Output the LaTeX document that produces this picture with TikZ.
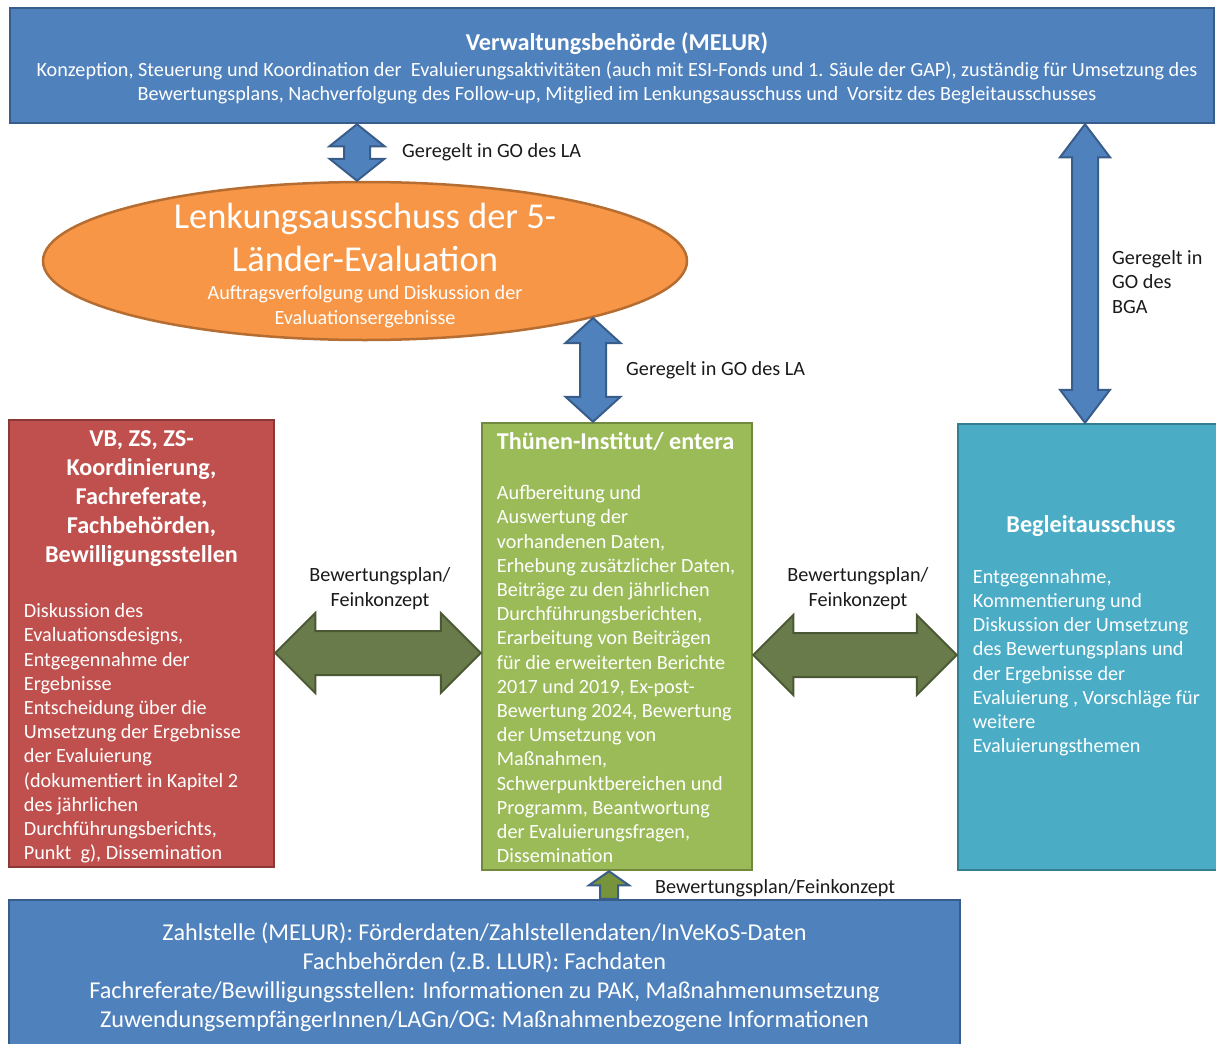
\documentclass[tikz,border=0pt]{standalone}
\usepackage{fontspec}
\setmainfont{Carlito}
\usetikzlibrary{calc,positioning,shapes.geometric}

\definecolor{vbblue}{RGB}{79,129,189}
\definecolor{vbblueline}{RGB}{56,93,138}
\definecolor{lkorange}{RGB}{247,150,70}
\definecolor{lkorangeline}{RGB}{182,109,49}
\definecolor{vbred}{RGB}{192,80,77}
\definecolor{vbredline}{RGB}{140,56,54}
\definecolor{tigreen}{RGB}{155,187,89}
\definecolor{tigreenline}{RGB}{113,137,63}
\definecolor{bateal}{RGB}{75,172,198}
\definecolor{batealline}{RGB}{53,125,145}
\definecolor{arrowolive}{RGB}{106,123,75}
\definecolor{arrowoliveline}{RGB}{74,89,52}
\definecolor{upolive}{RGB}{119,147,60}
\definecolor{labelgray}{RGB}{26,26,26}

% block arrows: style, top/left end, bottom/right end, half shaft, half head, head length
\newcommand{\vdblarrow}[6]{%
  \draw[#1] (#2) -- ($(#2)+(#5,#6)$) -- ($(#2)+(#4,#6)$) -- ($(#3)+(#4,-#6)$)
    -- ($(#3)+(#5,-#6)$) -- (#3) -- ($(#3)+(-#5,-#6)$) -- ($(#3)+(-#4,-#6)$)
    -- ($(#2)+(-#4,#6)$) -- ($(#2)+(-#5,#6)$) -- cycle;}
\newcommand{\hdblarrow}[6]{%
  \draw[#1] (#2) -- ($(#2)+(#6,-#5)$) -- ($(#2)+(#6,-#4)$) -- ($(#3)+(-#6,-#4)$)
    -- ($(#3)+(-#6,-#5)$) -- (#3) -- ($(#3)+(-#6,#5)$) -- ($(#3)+(-#6,#4)$)
    -- ($(#2)+(#6,#4)$) -- ($(#2)+(#6,#5)$) -- cycle;}

\tikzset{
  boxbase/.style={rectangle, inner sep=0pt, line width=2.5pt},
  bluebox/.style={boxbase, fill=vbblue, draw=vbblueline},
  redbox/.style={boxbase, fill=vbred, draw=vbredline},
  greenbox/.style={boxbase, fill=tigreen, draw=tigreenline},
  tealbox/.style={boxbase, fill=bateal, draw=batealline},
  lenkshape/.style={ellipse, inner sep=0pt, line width=2.5pt, fill=lkorange, draw=lkorangeline},
  bodytext/.style={text=white, inner sep=0pt, font=\fontsize{20.2}{24.2}\selectfont},
  bigtext/.style={text=white, inner sep=0pt, font=\fontsize{24.2}{29}\selectfont},
  headtext/.style={text=white, inner sep=0pt, font=\bfseries\fontsize{24.2}{29}\selectfont},
  hugetext/.style={text=white, inner sep=0pt, font=\fontsize{36.5}{43}\selectfont},
  lbl/.style={text=labelgray, inner sep=0pt, font=\fontsize{20.2}{24.2}\selectfont},
  bluearrow/.style={fill=vbblue, draw=vbblueline, line width=2pt},
  greenarrow/.style={fill=arrowolive, draw=arrowoliveline, line width=2pt},
  uparrow/.style={fill=upolive, draw=vbblueline, line width=2pt}
}

\begin{document}
\begin{tikzpicture}[x=1pt, y=-1pt]

\clip (0,0) rectangle (1216,1044);

% Verwaltungsbehoerde
\node[bluebox, minimum width=1204pt, minimum height=115pt] (melur) at (612,65.5) {};
\node[headtext, anchor=base] (melurtitle) at ($(melur.north)+(5,44)$) {Verwaltungsbehörde (MELUR)};
\node[bodytext, align=center, anchor=base] (melurtext) at ($(melur.north)+(5,94)$)
  {Konzeption, Steuerung und Koordination der~ Evaluierungsaktivitäten (auch mit ESI-Fonds und 1. Säule der GAP), zuständig für Umsetzung des\\
   Bewertungsplans, Nachverfolgung des Follow-up, Mitglied im Lenkungsausschuss und~ Vorsitz des Begleitausschusses};

% Lenkungsausschuss
\node[lenkshape, minimum width=644pt, minimum height=158pt] (lenk) at (365,261) {};
\node[hugetext, align=center, anchor=base] (lenktitle) at (365,271)
  {Lenkungsausschuss der 5-\\Länder-Evaluation};
\node[bodytext, align=center, anchor=base] (lenktext) at (365,324)
  {Auftragsverfolgung und Diskussion der\\Evaluationsergebnisse};

% Akteure
\node[redbox, minimum width=265pt, minimum height=447pt] (vb) at (141.5,643.5) {};
\node[headtext, align=center, anchor=base] (vbtitle) at ($(vb.north)+(0,144)$)
  {VB, ZS, ZS-\\Koordinierung,\\Fachreferate,\\Fachbehörden,\\Bewilligungsstellen};
\node[bodytext, align=left, anchor=base west] (vbtext) at ($(vb.north west)+(16,441)$)
  {Diskussion des\\Evaluationsdesigns,\\Entgegennahme der\\Ergebnisse\\Entscheidung über die\\Umsetzung der Ergebnisse\\der Evaluierung\\(dokumentiert in Kapitel 2\\des jährlichen\\Durchführungsberichts,\\Punkt~ g), Dissemination};

\node[greenbox, minimum width=270pt, minimum height=447pt] (ti) at (617,646.5) {};
\node[headtext, anchor=base west] (tititle) at ($(ti.north west)+(16,28)$) {Thünen-Institut/ entera};
\node[bodytext, align=left, anchor=base west] (titext) at ($(ti.north west)+(16,441)$)
  {Aufbereitung und\\Auswertung der\\vorhandenen Daten,\\Erhebung zusätzlicher Daten,\\Beiträge zu den jährlichen\\Durchführungsberichten,\\Erarbeitung von Beiträgen\\für die erweiterten Berichte\\2017 und 2019, Ex-post-\\Bewertung 2024, Bewertung\\der Umsetzung von\\Maßnahmen,\\Schwerpunktbereichen und\\Programm, Beantwortung\\der Evaluierungsfragen,\\Dissemination};

\node[tealbox, minimum width=262pt, minimum height=446pt] (bga) at (1089,647) {};
\node[headtext, anchor=base] (bgatitle) at ($(bga.north)+(2,110)$) {Begleitausschuss};
\node[bodytext, align=left, anchor=base west] (bgatext) at ($(bga.north west)+(16,330)$)
  {Entgegennahme,\\Kommentierung und\\Diskussion der Umsetzung\\des Bewertungsplans und\\der Ergebnisse der\\Evaluierung , Vorschläge für\\weitere\\Evaluierungsthemen};

% Datenquellen
\node[bluebox, minimum width=951pt, minimum height=150pt] (zs) at (484.5,975) {};
\node[bigtext, align=center, anchor=base] (zstext) at ($(zs.north)+(0,129)$)
  {Zahlstelle (MELUR): Förderdaten/Zahlstellendaten/InVeKoS-Daten\\
   Fachbehörden (z.B. LLUR): Fachdaten\\
   Fachreferate/Bewilligungsstellen: Informationen zu PAK, Maßnahmenumsetzung\\
   ZuwendungsempfängerInnen/LAGn/OG: Maßnahmenbezogene Informationen};

% Pfeile
\coordinate (a1t) at (357,0 |- melur.south);
\coordinate (a1b) at (357,0 |- lenk.north);
\coordinate (a2t) at (593,318);
\coordinate (a2b) at (593,0 |- ti.north);
\coordinate (a3t) at (1085,0 |- melur.south);
\coordinate (a3b) at (1085,0 |- bga.north);
\coordinate (a4l) at (vb.east |- 0,653);
\coordinate (a4r) at (ti.west |- 0,653);
\coordinate (a5l) at (ti.east |- 0,655);
\coordinate (a5r) at (bga.west |- 0,655);
\coordinate (a6t) at (609,0 |- ti.south);
\coordinate (a6b) at (609,0 |- zs.north);

\vdblarrow{bluearrow}{a1t}{a1b}{13}{27.5}{22}
\vdblarrow{bluearrow}{a2t}{a2b}{13}{27.5}{25}
\vdblarrow{bluearrow}{a3t}{a3b}{13}{25}{33}
\hdblarrow{greenarrow}{a4l}{a4r}{22}{40}{40}
\hdblarrow{greenarrow}{a5l}{a5r}{22}{40}{40}
\draw[uparrow] (a6t) -- ($(a6t)+(20,14)$) -- ($(a6t)+(9,14)$) -- ($(a6b)+(9,0)$)
  -- ($(a6b)+(-9,0)$) -- ($(a6t)+(-9,14)$) -- ($(a6t)+(-20,14)$) -- cycle;

% Beschriftungen
\node[lbl, anchor=base west] (l1) at (402,157) {Geregelt in GO des LA};
\node[lbl, anchor=base west] (l2) at (626,375) {Geregelt in GO des LA};
\node[lbl, align=left, anchor=base west] (l3) at (1112,313) {Geregelt in\\GO des\\BGA};
\node[lbl, align=center, anchor=base] (l4) at (380,606) {Bewertungsplan/\\Feinkonzept};
\node[lbl, align=center, anchor=base] (l5) at (858,606) {Bewertungsplan/\\Feinkonzept};
\node[lbl, anchor=base west] (l6) at (655,893) {Bewertungsplan/Feinkonzept};

\end{tikzpicture}
\end{document}
